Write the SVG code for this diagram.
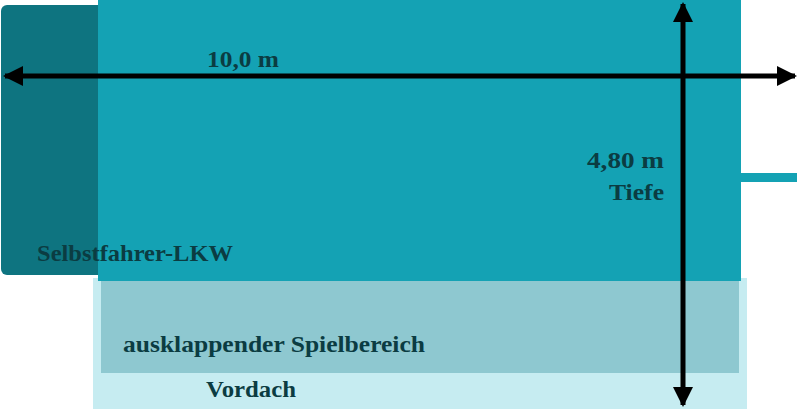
<svg xmlns="http://www.w3.org/2000/svg" width="800" height="409" viewBox="0 0 800 409">
<style>
.lbl{font-family:"Liberation Serif","DejaVu Serif",serif;font-weight:bold;font-size:24px;fill:#0b3c42}
.dim{stroke:#000;stroke-width:5;fill:none}
</style>
<defs>
<marker id="ah" markerWidth="4" markerHeight="4" refX="3.6" refY="2" orient="auto-start-reverse" markerUnits="strokeWidth">
<path d="M0,0 L4,2 L0,4 Z" fill="#000"/>
</marker>
</defs>
<rect width="800" height="409" fill="#fff"/>
<g id="vordach">
<rect x="93" y="278" width="654" height="131" fill="#c6ecf1"/>
<text class="lbl" x="206" y="397" textLength="90" lengthAdjust="spacingAndGlyphs">Vordach</text>
</g>
<g id="spielbereich">
<rect x="101" y="281" width="638" height="92" fill="#8ec8d0"/>
<text class="lbl" x="123" y="352" textLength="302" lengthAdjust="spacingAndGlyphs">ausklappender Spielbereich</text>
</g>
<g id="lkw">
<rect x="1" y="5" width="110" height="270" rx="6" fill="#0e7480"/>
<rect x="98" y="0" width="643" height="281" fill="#14a2b4"/>
<rect x="741" y="173" width="56" height="9" fill="#14a2b4"/>
<text class="lbl" x="37" y="261" textLength="196" lengthAdjust="spacingAndGlyphs">Selbstfahrer-LKW</text>
</g>
<g id="connectors">
<line class="dim" x1="5" y1="76" x2="795" y2="76" marker-start="url(#ah)" marker-end="url(#ah)"/>
<line class="dim" x1="683" y1="4" x2="683" y2="405" marker-start="url(#ah)" marker-end="url(#ah)"/>
</g>
<g id="labels">
<text class="lbl" x="207" y="67" textLength="72" lengthAdjust="spacingAndGlyphs">10,0 m</text>
<text class="lbl" x="587" y="168" textLength="77" lengthAdjust="spacingAndGlyphs">4,80 m</text>
<text class="lbl" x="609" y="200" textLength="55" lengthAdjust="spacingAndGlyphs">Tiefe</text>
</g>
</svg>
